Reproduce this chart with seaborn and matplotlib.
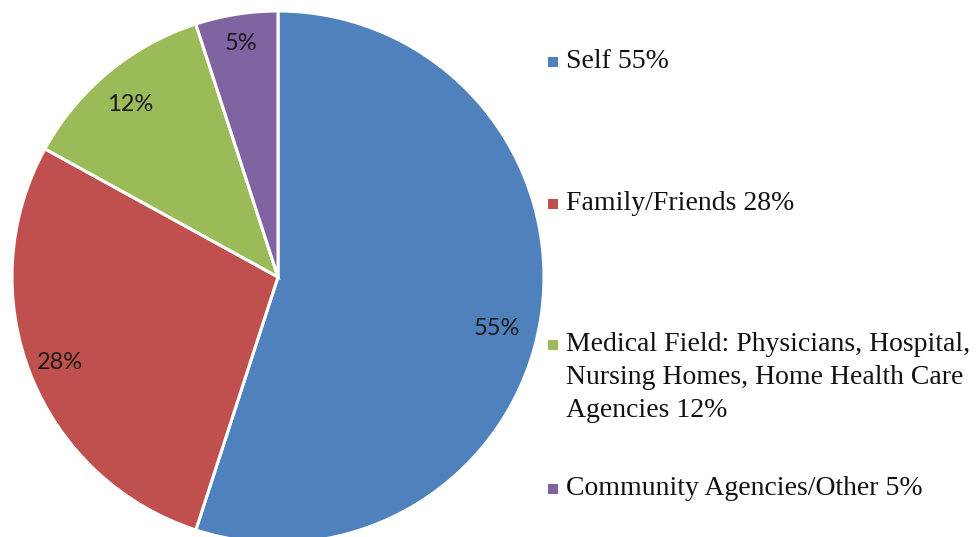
import matplotlib
matplotlib.use("Agg")
import matplotlib.pyplot as plt
import seaborn as sns
from matplotlib.patches import Rectangle

categories = ["Self", "Family/Friends",
              "Medical Field: Physicians, Hospital,\nNursing Homes, Home Health Care\nAgencies",
              "Community Agencies/Other"]
values = [55, 28, 12, 5]
colors = ["#4F81BD", "#C0504D", "#9BBB59", "#8064A2"]

sns.set_theme(style="white")
palette = sns.color_palette(colors)

W, H = 976, 537
fig = plt.figure(figsize=(W / 100, H / 100), dpi=100)
# pie center (278, 277) px, radius 266 px
cx, cy, r = 278, 277, 266
ax = fig.add_axes([(cx - r) / W, 1 - (cy + r) / H, 2 * r / W, 2 * r / H])
ax.axis("off")

wedges, texts, autotexts = ax.pie(
    values, colors=palette, startangle=90, counterclock=False, radius=1,
    autopct=lambda p: f"{p:.0f}%", pctdistance=0.8,
    wedgeprops=dict(edgecolor="white", linewidth=2.2), frame=False)
ax.set_xlim(-1, 1)
ax.set_ylim(-1, 1)
ax.set_aspect("auto")

label_pos = [(0.823, -0.192), (-0.82, -0.32), (-0.556, 0.65), (-0.139, 0.876)]
for t, p in zip(autotexts, label_pos):
    t.set_position(p)
    t.set_fontfamily("Lato")
    t.set_fontsize(17)
    t.set_color("#1a1a1a")

# legend (manual)
row_y = [60, 202, 343, 487]
sq = 10
for cat, val, col, y in zip(categories, values, palette, row_y):
    fig.patches.append(Rectangle((548 / W, 1 - (y + sq / 2 + 2) / H), sq / W, sq / H,
                                 transform=fig.transFigure, facecolor=col, edgecolor="none"))
    fig.text(566 / W, 1 - (y - 11) / H, f"{cat} {val}%", ha="left", va="top",
             fontfamily="Liberation Serif", fontsize=20, color="#111111",
             linespacing=1.42)

fig.savefig("out.png", dpi=100)
